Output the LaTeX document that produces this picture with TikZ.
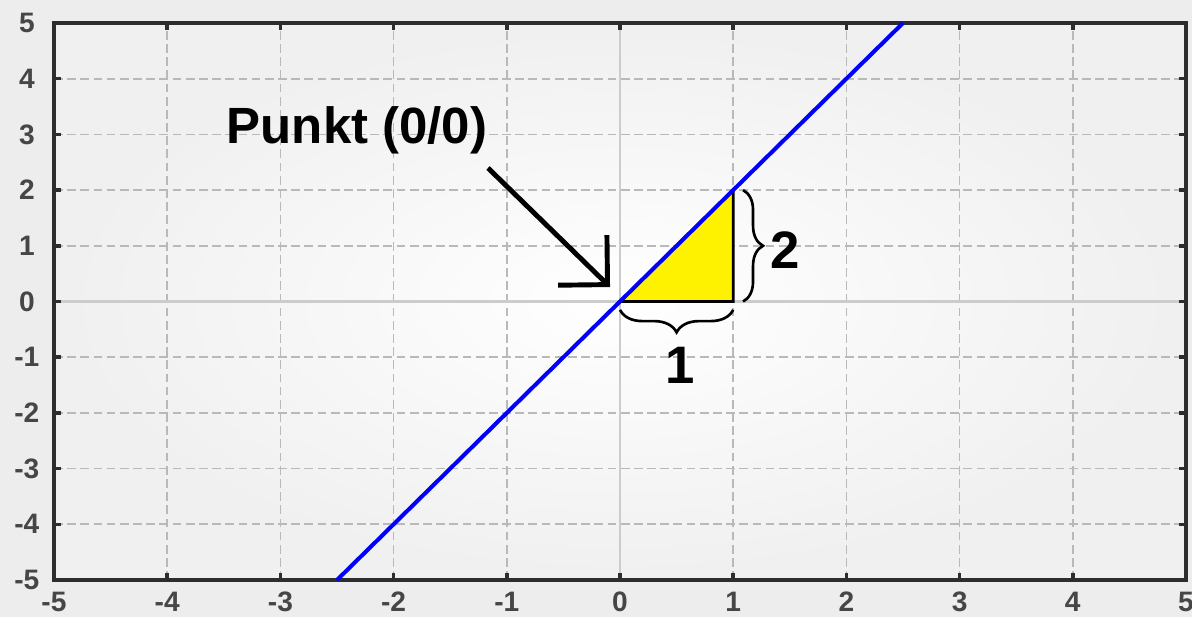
\documentclass[tikz,border=0pt]{standalone}
\usepackage{fontspec}
\setmainfont{Liberation Sans}
\usetikzlibrary{arrows.meta,decorations.pathreplacing}

\begin{document}
\begin{tikzpicture}[
    x=2.264cm, y=1.114cm,
    ticklabel/.style={text=gray!55!black, font=\fontsize{16}{19}\selectfont\bfseries, inner sep=0pt},
    biglabel/.style={font=\fontsize{30}{34}\selectfont\bfseries, inner sep=0pt},
    gridline/.style={gray!55, line width=1pt, dash pattern=on 5pt off 2.5pt},
    bracestyle/.style={decorate, decoration={brace, amplitude=0.45cm}, line width=1.5pt},
    arr/.style={-{Straight Barb[length=7mm, width=14mm]}, line width=2.8pt}
]
\useasboundingbox (-5.477,-5.664) rectangle (5.053,5.413);
\fill[gray!14] (-5.477,-5.664) rectangle (5.053,5.413);
\shade[inner color=white, outer color=gray!12] (-5,-5) rectangle (5,5);

% grid
\foreach \k in {-4,...,4} {
    \draw[gridline] (\k,-5) -- (\k,5);
    \draw[gridline] (-5,\k) -- (5,\k);
}
\draw[gray!40, line width=1.5pt] (0,-5) -- (0,5);
\draw[gray!40, line width=1.5pt] (-5,0) -- (5,0);

% frame and ticks
\draw[gray!35!black, line width=2.5pt] (-5,-5) rectangle (5,5);
\foreach \k in {-4,...,4} {
    \draw[gray!35!black, line width=2pt] (\k,-5) -- ++(0,0.12);
    \draw[gray!35!black, line width=2pt] (\k,5) -- ++(0,-0.12);
    \draw[gray!35!black, line width=2pt] (-5,\k) -- ++(0.06,0);
    \draw[gray!35!black, line width=2pt] (5,\k) -- ++(-0.06,0);
}
\foreach \k in {-5,...,5} {
    \node[ticklabel] (xl\k) at (\k,-5.39) {\k};
    \node[ticklabel] (yl\k) at (-5.24,\k) {\k};
}

% triangle and line
\filldraw[fill=yellow, draw=black, line width=1.5pt] (0,0) -- (1,0) -- (1,2) -- cycle;
\draw[blue, line width=2.3pt] (-2.5,-5) -- (2.5,5);

% braces
\draw[bracestyle] (1,-0.15) -- (0,-0.15);
\draw[bracestyle, decoration={amplitude=0.4cm}] (1.087,2) -- (1.087,0);
\node[biglabel] (one) at (0.53,-1.14) {1};
\node[biglabel] (two) at (1.458,0.925) {2};

% label with arrow
\node[biglabel, font=\fontsize{29}{34}\selectfont\bfseries] (punkt) at (-2.323,3.079) {Punkt (0/0)};
\coordinate (tail) at (-1.166,2.397);
\coordinate (tip) at (-0.088,0.26);
\draw[arr] (tail) -- (tip);
\end{tikzpicture}
\end{document}
